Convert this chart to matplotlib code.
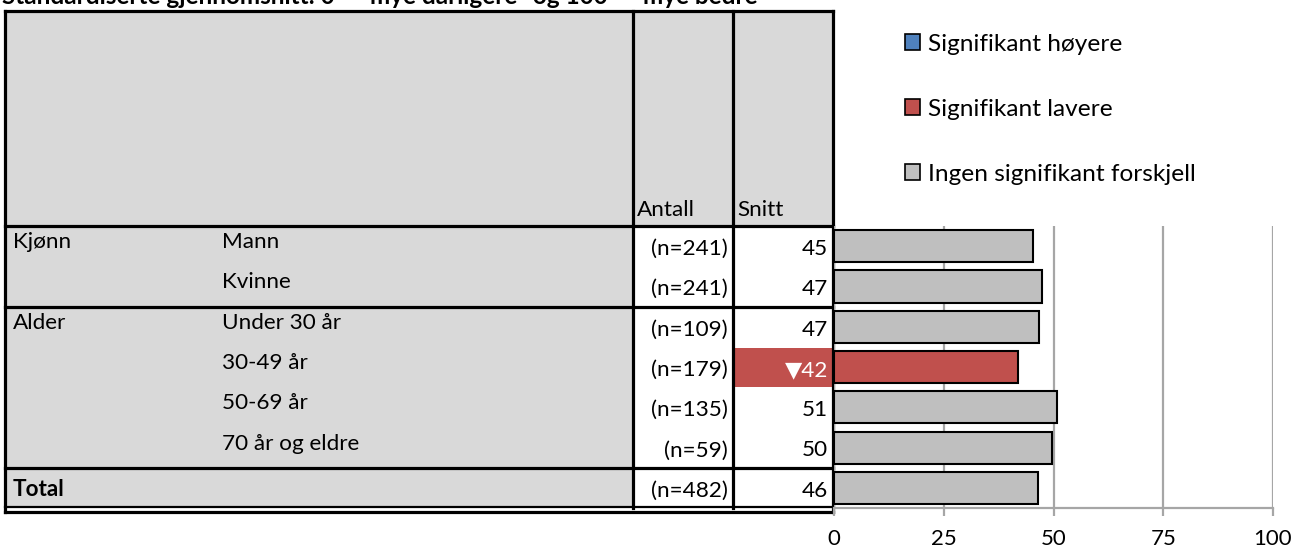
import matplotlib
matplotlib.use("Agg")
import matplotlib.pyplot as plt
from matplotlib.patches import Rectangle, Patch

plt.rcParams['font.family'] = ['Lato', 'DejaVu Sans']

# ---------------- data ----------------
title = 'Standardiserte gjennomsnitt: 0 = "mye dårligere" og 100 = "mye bedre"'
groups = ["Kjønn", "", "Alder", "", "", "", "Total"]
categories = ["Mann", "Kvinne", "Under 30 år", "30-49 år", "50-69 år", "70 år og eldre", ""]
n_values = [241, 241, 109, 179, 135, 59, 482]
means = [45.3, 47.3, 46.6, 41.9, 50.7, 49.6, 46.4]
significance = ["none", "none", "none", "lower", "none", "none", "none"]
header_cols = ["Antall", "Snitt"]
legend_labels = ["Signifikant høyere", "Signifikant lavere", "Ingen signifikant forskjell"]
xticks = [0, 25, 50, 75, 100]

# ---------------- style ----------------
W, H = 1297, 551
C_GRAY_CELL = "#D9D9D9"
C_BAR = "#BFBFBF"
C_LOW = "#C0504D"
C_HIGH = "#4F81BD"
C_GRID = "#A6A6A6"
sig_color = {"none": C_BAR, "lower": C_LOW, "higher": C_HIGH}

fig = plt.figure(figsize=(W / 100, H / 100), dpi=100)

# table / overlay axes in pixel coordinates
ax_t = fig.add_axes([0, 0, 1, 1])
ax_t.set_xlim(0, W)
ax_t.set_ylim(H, 0)
ax_t.axis("off")

x_left, x_c1, x_c2, x_right = 5, 633, 733, 833
y_top, y_head = 11, 226
row_h = 40.3
nrows = len(categories)
y_bot = y_head + nrows * row_h
TFS = 16.2
LW = 2.3

# title (cut at top, as in the reference)
ax_t.text(2, 4, title, fontsize=17.5, fontweight="bold", va="baseline", ha="left")

# backgrounds
ax_t.add_patch(Rectangle((x_left, y_top), x_right - x_left, y_head - y_top, color=C_GRAY_CELL, lw=0))
ax_t.add_patch(Rectangle((x_left, y_head), x_c1 - x_left, y_bot - y_head, color=C_GRAY_CELL, lw=0))

# headers
ax_t.text(x_c1 + 4, y_head - 16, header_cols[0], fontsize=TFS, va="center", ha="left")
ax_t.text(x_c2 + 4, y_head - 16, header_cols[1], fontsize=TFS, va="center", ha="left")

# rows
for i in range(nrows):
    rt = y_head + i * row_h
    is_total = groups[i] == "Total"
    if significance[i] != "none":
        ax_t.add_patch(Rectangle((x_c2, rt + 1), x_right - x_c2, row_h - 1,
                                 color=sig_color[significance[i]], lw=0))
    if groups[i]:
        ax_t.text(x_left + 8, rt + (22 if is_total else 16), groups[i], fontsize=TFS,
                  va="center", ha="left", fontweight="bold" if is_total else "normal")
    if categories[i]:
        ax_t.text(222, rt + 16, categories[i], fontsize=TFS, va="center", ha="left")
    ax_t.text(x_c2 - 5, rt + 23, f"(n={n_values[i]})", fontsize=TFS, va="center", ha="right")
    if significance[i] == "lower":
        ax_t.text(x_right - 5, rt + 23, "▼" + f"{means[i]:.0f}", fontsize=TFS, va="center",
                  ha="right", color="white")
    elif significance[i] == "higher":
        ax_t.text(x_right - 5, rt + 23, "▲" + f"{means[i]:.0f}", fontsize=TFS, va="center",
                  ha="right", color="white")
    else:
        ax_t.text(x_right - 5, rt + 23, f"{means[i]:.0f}", fontsize=TFS, va="center", ha="right")

# table lines
def hline(y, x0=x_left, x1=x_right, lw=LW):
    ax_t.plot([x0, x1], [y, y], color="black", lw=lw, solid_capstyle="projecting", zorder=5)

def vline(x, y0=y_top, y1=y_bot, lw=LW):
    ax_t.plot([x, x], [y0, y1], color="black", lw=lw, solid_capstyle="projecting", zorder=5)

hline(y_top)
hline(y_head)
for i in range(1, nrows):
    if groups[i]:
        hline(y_head + i * row_h)
hline(y_bot - 1, lw=1.6)
hline(y_bot + 4, lw=LW)
vline(x_left, y1=y_bot + 4)
vline(x_c1)
vline(x_c2)
vline(x_right, y1=y_bot + 4)

# ---------------- bar chart ----------------
bx0, bx1 = 834, 1273
ax = fig.add_axes([bx0 / W, 1 - y_bot / H, (bx1 - bx0) / W, (y_bot - y_head) / H])
colors = [sig_color[s] for s in significance]
ax.barh(range(nrows), means, height=0.8, color=colors, edgecolor="black", linewidth=1.5, zorder=3)
ax.set_xlim(0, 100)
ax.set_ylim(nrows - 0.5, -0.5)
ax.set_xticks(xticks)
ax.set_yticks([])
ax.xaxis.grid(True, color=C_GRID, lw=1.6, zorder=0)
ax.set_axisbelow(True)
for s in ["top", "right", "left"]:
    ax.spines[s].set_visible(False)
ax.spines["bottom"].set_color(C_GRID)
ax.spines["bottom"].set_linewidth(1.6)
ax.tick_params(axis="x", direction="out", length=6, width=1.6, color=C_GRID,
               labelsize=16, pad=9)
ax.patch.set_alpha(0)

# legend
handles = [Patch(facecolor=c, edgecolor="black", linewidth=1.2) for c in (C_HIGH, C_LOW, C_BAR)]
fig.legend(handles, legend_labels, loc="upper left", bbox_to_anchor=(905 / W, 1 - 34 / H),
           frameon=False, fontsize=17.6, handlelength=0.62, handleheight=0.62,
           handletextpad=0.33, labelspacing=1.8, borderaxespad=0, borderpad=0)

fig.savefig("out.png", dpi=100)
